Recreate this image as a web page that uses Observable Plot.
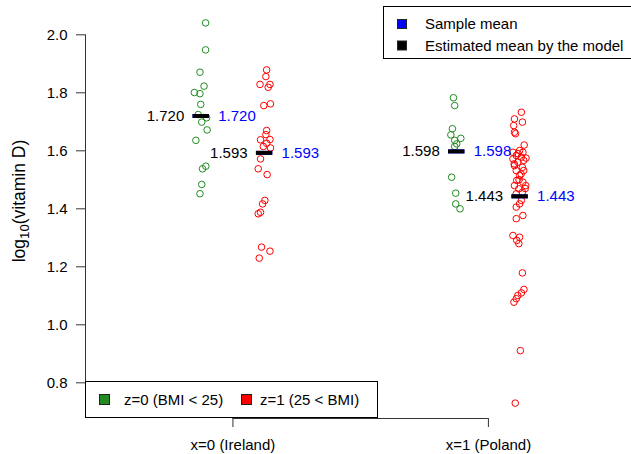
<!DOCTYPE html>
<html>
<head>
<meta charset="utf-8">
<script src="https://cdn.jsdelivr.net/npm/d3@7"></script>
<script src="https://cdn.jsdelivr.net/npm/@observablehq/plot@0.6"></script>
<style>
  body { margin: 0; background: #fff; }
  svg { display: block; }
</style>
</head>
<body>
<div id="chart"></div>
<script>
// Country (x) and BMI group (z) labels
const countries = ["x=0 (Ireland)", "x=1 (Poland)"];
const bmiGroups = ["z=0 (BMI < 25)", "z=1 (25 < BMI)"];
const meanLegend = ["Sample mean", "Estimated mean by the model"];
const yTicks = [0.8, 1.0, 1.2, 1.4, 1.6, 1.8, 2.0];

// log10(vitamin D) per subject, with the horizontal jitter used when plotting (x units)
const irelandZ0 = [2.041, 1.948, 1.871, 1.823, 1.801, 1.797, 1.760, 1.725, 1.714, 1.699, 1.672, 1.636, 1.547, 1.538, 1.484, 1.452];
const irelandZ0Jitter = [0.017, 0.017, -0.005, 0.011, -0.027, -0.005, -0.002, -0.012, 0.021, 0.002, 0.023, -0.021, 0.018, 0.005, 0.002, -0.005];

const irelandZ1 = [1.879, 1.856, 1.829, 1.829, 1.819, 1.756, 1.762, 1.670, 1.656, 1.638, 1.639, 1.626, 1.615, 1.610, 1.572, 1.538, 1.518, 1.429, 1.417, 1.388, 1.383, 1.268, 1.254, 1.230];
const irelandZ1Jitter = [0.008, 0.005, -0.018, 0.021, 0.014, -0.003, 0.023, 0.008, 0.005, -0.016, 0.021, 0.008, -0.005, 0.023, -0.016, -0.025, 0.010, 0.001, -0.008, -0.016, -0.025, -0.012, 0.021, -0.021];

const polandZ0 = [1.783, 1.756, 1.676, 1.655, 1.643, 1.636, 1.624, 1.615, 1.509, 1.454, 1.417, 1.400];
const polandZ0Jitter = [-0.013, -0.008, -0.017, -0.023, 0.016, -0.008, 0.000, -0.008, -0.020, -0.004, -0.004, 0.013];

const polandZ1 = [1.733, 1.710, 1.699, 1.687, 1.664, 1.659, 1.620,
  1.601, 1.595, 1.595, 1.584, 1.578, 1.572, 1.567, 1.561, 1.549, 1.543, 1.532, 1.532, 1.515,
  1.590, 1.575, 1.555, 1.520,
  1.498, 1.492, 1.480, 1.480, 1.469, 1.457, 1.452, 1.429, 1.417, 1.406, 1.500, 1.470,
  1.377, 1.366, 1.308, 1.302, 1.291, 1.280,
  1.179, 1.122, 1.110, 1.101, 1.090, 1.078, 0.911, 0.730];
const polandZ1Jitter = [0.005, -0.022, 0.009, -0.025, -0.022, -0.018, 0.016,
  -0.002, -0.028, 0.011, -0.015, 0.005, -0.028, 0.014, -0.009, -0.022, 0.009, -0.015, 0.014, -0.002,
  -0.008, 0.023, -0.023, 0.004,
  -0.013, 0.011, -0.022, 0.022, -0.005, 0.009, -0.015, 0.005, -0.002, -0.015, -0.004, 0.020,
  0.011, -0.015, -0.028, -0.002, -0.013, -0.005,
  0.009, 0.015, 0.005, -0.009, -0.015, -0.024, 0.001, -0.019];

// Group means: Ireland z=0, Ireland z=1, Poland z=0, Poland z=1
const sampleMeans = [1.720, 1.593, 1.598, 1.443];
const modelMeans = [1.720, 1.593, 1.598, 1.443];

const green = "#228B22";
const red = "#FF0000";
const blue = "#0000FF";
const font = "'Liberation Sans', Arial, Helvetica, sans-serif";
const fs = 15;
const fsLab = 17.5;

const groups = [
  {x: 0, z: 0, values: irelandZ0, jitter: irelandZ0Jitter},
  {x: 0, z: 1, values: irelandZ1, jitter: irelandZ1Jitter},
  {x: 1, z: 0, values: polandZ0, jitter: polandZ0Jitter},
  {x: 1, z: 1, values: polandZ1, jitter: polandZ1Jitter}
].map((g, i) => ({...g, cx: g.x + (g.z === 0 ? -0.124 : 0.124), mean: sampleMeans[i], model: modelMeans[i]}));

const points = groups.flatMap(g => g.values.map((v, i) => ({z: g.z, px: g.cx + g.jitter[i], v})));

const xDomain = [-0.577, 1.560];
const yDomain = [0.677, 2.0976];
const barHalf = 0.032;

const chart = Plot.plot({
  width: 631,
  height: 454,
  marginLeft: 85,
  marginRight: 0,
  marginTop: 6,
  marginBottom: 36,
  style: {fontFamily: font, fontSize: fs + "px", color: "#000", background: "#fff", overflow: "visible"},
  x: {type: "linear", domain: xDomain, axis: null},
  y: {domain: yDomain, axis: null},
  color: {domain: [0, 1], range: [green, red]},
  marks: [
    // axis lines spanning the tick range, as in base graphics
    Plot.ruleX([xDomain[0]], {y1: yTicks[0], y2: yTicks[yTicks.length - 1], stroke: "#333"}),
    Plot.ruleY([yDomain[0]], {x1: 0, x2: 1, stroke: "#333"}),
    Plot.axisY(yTicks, {anchor: "left", tickSize: 9, tickPadding: 9, tickFormat: d3.format(".1f"), label: null, fontSize: fs, stroke: "#333"}),
    Plot.axisX([0, 1], {anchor: "bottom", tickSize: 9, tickPadding: 12, tickFormat: d => countries[d], label: null, fontSize: fs, stroke: "#333"}),
    Plot.dot(points, {x: "px", y: "v", r: 3.3, stroke: "z", strokeWidth: 1, fill: "none"}),
    Plot.ruleY(groups, {y: "mean", x1: d => d.cx - barHalf, x2: d => d.cx + barHalf, stroke: blue, strokeWidth: 4}),
    Plot.ruleY(groups, {y: "model", x1: d => d.cx - barHalf, x2: d => d.cx + barHalf, stroke: "#000", strokeWidth: 4}),
    Plot.text(groups, {x: "cx", y: "model", text: d => d.model.toFixed(3), textAnchor: "end", dx: -17, fill: "#000", fontSize: fs}),
    Plot.text(groups, {x: "cx", y: "mean", text: d => d.mean.toFixed(3), textAnchor: "start", dx: 17, fill: blue, fontSize: fs})
  ]
});

document.getElementById("chart").appendChild(chart);

const svg = d3.select(chart);

// y-axis title with subscript
const yTitle = svg.append("text")
  .attr("transform", "translate(19,201) rotate(-90)")
  .attr("text-anchor", "middle")
  .attr("font-family", font)
  .attr("font-size", fsLab)
  .attr("fill", "#000")
  .attr("dy", "0.35em");
yTitle.append("tspan").text("log");
yTitle.append("tspan").attr("font-size", fsLab * 0.75).attr("dy", 4).text("10");
yTitle.append("tspan").attr("dy", -4).text("(vitamin D)");

// legend for BMI groups (bottom left)
const bl = svg.append("g").attr("font-family", font).attr("font-size", fs).attr("text-anchor", "start");
bl.append("rect").attr("x", 85.5).attr("y", 381.5).attr("width", 292).attr("height", 36).attr("fill", "#fff").attr("stroke", "#000");
[[green, 99, 124], [red, 241, 260]].forEach(([c, sx, tx], i) => {
  bl.append("rect").attr("x", sx + 0.5).attr("y", 394.5).attr("width", 10).attr("height", 10).attr("fill", c).attr("stroke", "#222");
  bl.append("text").attr("x", tx).attr("y", 399.5).attr("dy", "0.35em").text(bmiGroups[i]);
});

// legend for the means (top right)
const tr = svg.append("g").attr("font-family", font).attr("font-size", fs).attr("text-anchor", "start");
tr.append("rect").attr("x", 383.5).attr("y", 6.5).attr("width", 260).attr("height", 52).attr("fill", "#fff").attr("stroke", "#000");
[[blue, 24], ["#000", 45.5]].forEach(([c, cy], i) => {
  tr.append("rect").attr("x", 397.5).attr("y", cy - 4.5).attr("width", 9).attr("height", 9).attr("fill", c).attr("stroke", "#222");
  tr.append("text").attr("x", 425).attr("y", cy).attr("dy", "0.35em").text(meanLegend[i]);
});
</script>
</body>
</html>
